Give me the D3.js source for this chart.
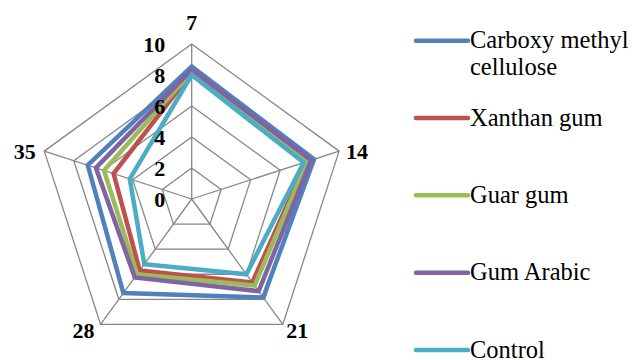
<!DOCTYPE html>
<html>
<head>
<meta charset="utf-8">
<script src="https://cdn.jsdelivr.net/npm/d3@7"></script>
<style>
  html, body { margin: 0; padding: 0; background: #ffffff; }
  svg { display: block; }
</style>
</head>
<body>
<svg id="chart" width="633" height="360"></svg>
<script>
// Storage days shown on the spokes
const categories = ["7", "14", "21", "28", "35"];

// Score per series at each storage day
const cmc       = [8.55, 8.3, 7.85, 7.5, 7.05];
const xanthan   = [8.15, 7.8, 6.65, 5.7, 5.3];
const guar      = [8.2, 7.85, 6.9, 6.0, 5.95];
const gumArabic = [8.35, 8.1, 7.35, 6.25, 6.5];
const control   = [8.0, 7.6, 6.0, 5.2, 4.2];

const seriesNames = ["Carboxy methyl cellulose", "Xanthan gum", "Guar gum", "Gum Arabic", "Control"];
const seriesColors = ["#4F81BD", "#C0504D", "#9BBB59", "#8064A2", "#4BACC6"];

// Radial tick labels
const tickValues = [0, 2, 4, 6, 8, 10];

const series = [cmc, xanthan, guar, gumArabic, control].map((values, i) => ({
  name: seriesNames[i], color: seriesColors[i], values
}));

const FONT = "'Liberation Serif', Tinos, 'Times New Roman', serif";

const svg = d3.select("#chart").attr("font-family", FONT);
const cx = 191.7, cy = 199;
const r = d3.scaleLinear().domain([0, 10]).range([0, 155]);
const angle = d3.scalePoint().domain(categories).range([0, 2 * Math.PI * (categories.length - 1) / categories.length]);

function pt(cat, v) {
  const a = angle(cat);
  return [cx + r(v) * Math.sin(a), cy - r(v) * Math.cos(a)];
}

const grid = svg.append("g");
// concentric pentagon rings
tickValues.filter(t => t > 0).forEach(t => {
  grid.append("polygon")
    .attr("points", categories.map(c => pt(c, t).join(",")).join(" "))
    .attr("fill", "none")
    .attr("stroke", "#868686")
    .attr("stroke-width", 1.3);
});
// spokes
categories.forEach(c => {
  const [x, y] = pt(c, 10);
  grid.append("line")
    .attr("x1", cx).attr("y1", cy).attr("x2", x).attr("y2", y)
    .attr("stroke", "#868686").attr("stroke-width", 1.3);
});

// series polygons; later series are drawn on top
const lineGen = d3.lineRadial()
  .angle((d, i) => angle(categories[i]))
  .radius(d => r(d))
  .curve(d3.curveLinearClosed);

const plot = svg.append("g").attr("transform", `translate(${cx},${cy})`);
series.forEach(s => {
  plot.append("path")
    .attr("d", lineGen(s.values))
    .attr("fill", "none")
    .attr("stroke", s.color)
    .attr("stroke-width", 4.5)
    .attr("stroke-linejoin", "miter");
});

// radial tick labels left of the top spoke
svg.append("g").selectAll("text")
  .data(tickValues)
  .join("text")
  .attr("x", cx - 26.5)
  .attr("y", d => cy - r(d))
  .attr("dy", "0.35em")
  .attr("text-anchor", "end")
  .attr("font-size", 22)
  .attr("font-weight", "bold")
  .text(d => d);

// category labels at spoke ends
const catLabelPos = {
  "7":  { dx: 0,   dy: -14, anchor: "middle", base: "alphabetic" },
  "14": { dx: 7,   dy: 0,   anchor: "start",  base: "central" },
  "21": { dx: 3.5, dy: 14,  anchor: "start",  base: "alphabetic" },
  "28": { dx: -6,  dy: 14,  anchor: "end",    base: "alphabetic" },
  "35": { dx: -8.5, dy: 0,  anchor: "end",    base: "central" }
};
svg.append("g").selectAll("text")
  .data(categories)
  .join("text")
  .attr("x", d => pt(d, 10)[0] + catLabelPos[d].dx)
  .attr("y", d => pt(d, 10)[1] + catLabelPos[d].dy)
  .attr("dy", d => catLabelPos[d].base === "central" ? "0.35em" : 0)
  .attr("text-anchor", d => catLabelPos[d].anchor)
  .attr("font-size", 22)
  .attr("font-weight", "bold")
  .text(d => d);

// legend
const legendY = d3.scalePoint().domain(seriesNames).range([40.7, 350]);
const legend = svg.append("g");
series.forEach(s => {
  const y = legendY(s.name);
  legend.append("line")
    .attr("x1", 416).attr("x2", 468).attr("y1", y).attr("y2", y)
    .attr("stroke", s.color).attr("stroke-width", 4.5).attr("stroke-linecap", "round");
  const words = s.name === "Carboxy methyl cellulose" ? ["Carboxy methyl", "cellulose"] : [s.name];
  const t = legend.append("text")
    .attr("x", 470).attr("y", y + 7.6)
    .attr("font-size", 24.5);
  words.forEach((w, i) => {
    t.append("tspan").attr("x", 470).attr("dy", i === 0 ? 0 : 27).text(w);
  });
});
</script>
</body>
</html>
